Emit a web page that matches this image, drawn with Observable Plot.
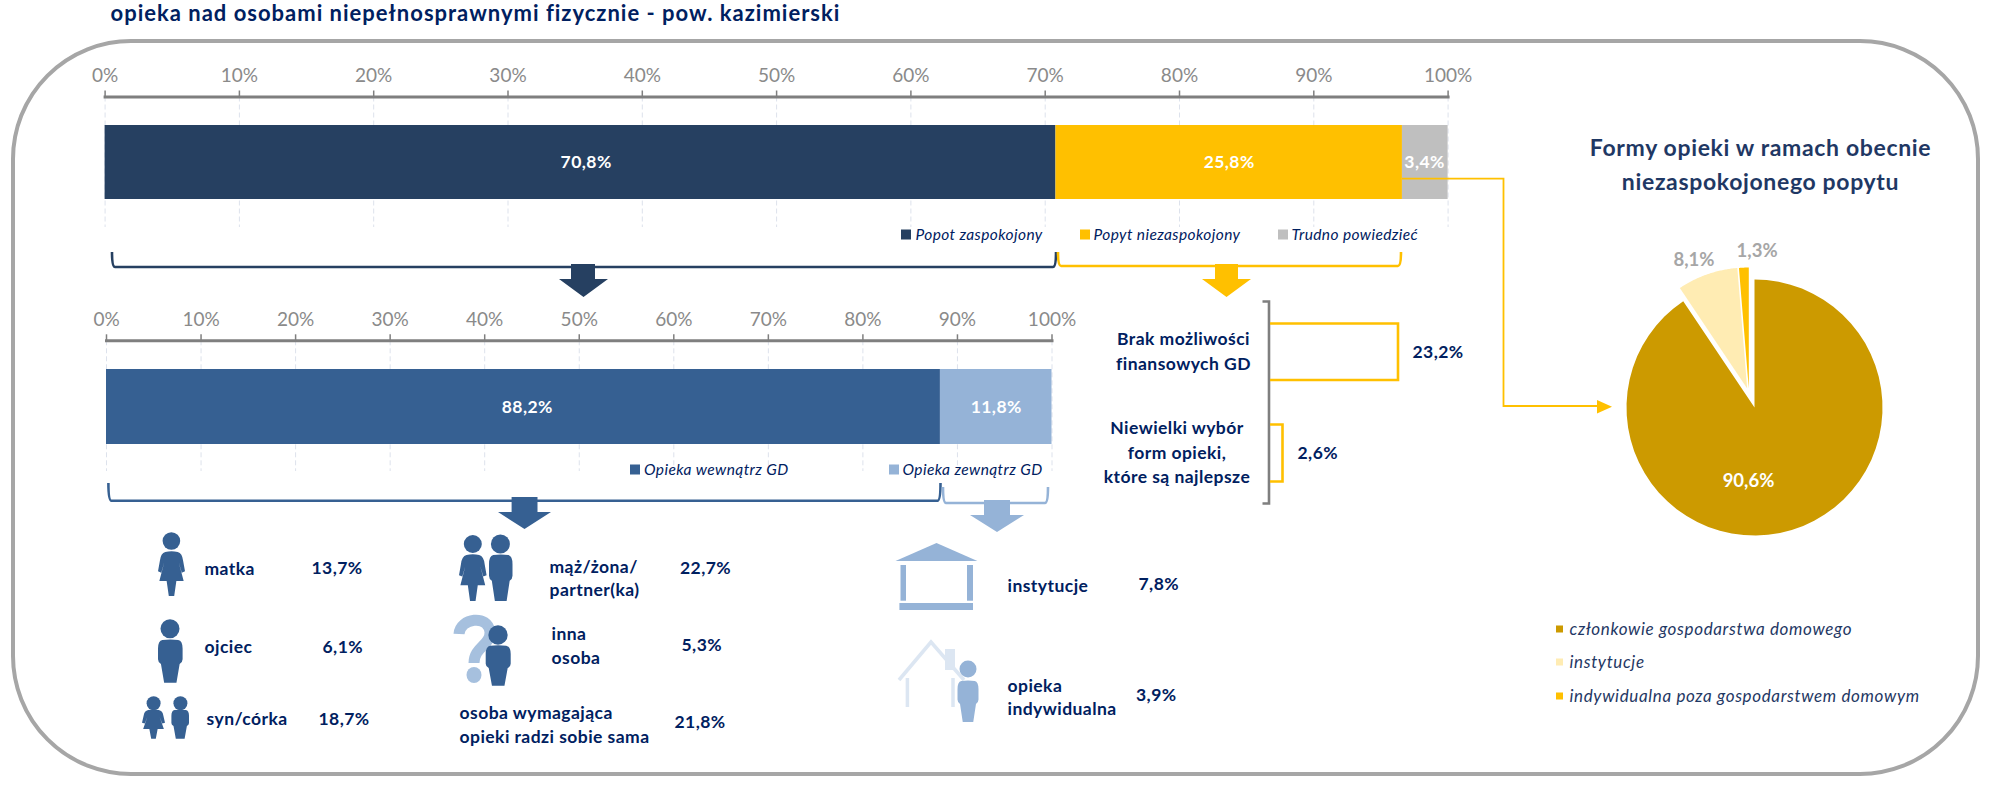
<!DOCTYPE html>
<html lang="pl">
<head>
<meta charset="utf-8">
<script src="https://cdn.jsdelivr.net/npm/d3@7"></script>
<script src="https://cdn.jsdelivr.net/npm/@observablehq/plot@0.6"></script>
<style>
html,body{margin:0;padding:0;background:#fff;overflow:hidden}
#page{position:relative;width:1989px;height:787px;font-family:Lato,sans-serif}
#page svg{position:absolute;left:0;top:0;background:transparent;max-width:none}
#frame{position:absolute;left:11px;top:39px;width:1961px;height:729px;border:4.5px solid #a6a6a6;border-radius:120px}
#page g[font-size="22"]{letter-spacing:1px}
#page g[font-size="23"]{letter-spacing:.65px}
#page g[font-size="17.5"]{letter-spacing:.45px}
#page g[font-size="15.5"]{letter-spacing:.4px}
#page g[font-size="17"]{letter-spacing:.65px}
</style>
</head>
<body>
<div id="page"><div id="frame"></div></div>
<script>
// ---------- data ----------
const titleText = "opieka nad osobami niepełnosprawnymi fizycznie - pow. kazimierski";
const demandLabels = ["Popot zaspokojony", "Popyt niezaspokojony", "Trudno powiedzieć"];
const demandValues = [70.8, 25.8, 3.4];
const careLabels = ["Opieka wewnątrz GD", "Opieka zewnątrz GD"];
const careValues = [88.2, 11.8];
const pieLabels = ["członkowie gospodarstwa domowego", "instytucje", "indywidualna poza gospodarstwem domowym"];
const pieValues = [90.6, 8.1, 1.3];
const pieTitle = ["Formy opieki w ramach obecnie", "niezaspokojonego popytu"];
const reasonLabels = [["Brak możliwości", "finansowych GD"], ["Niewielki wybór", "form opieki,", "które są najlepsze"]];
const reasonValues = [23.2, 2.6];
const insideLabels = [["matka"], ["ojciec"], ["syn/córka"], ["mąż/żona/", "partner(ka)"], ["inna", "osoba"], ["osoba wymagająca", "opieki radzi sobie sama"]];
const insideValues = [13.7, 6.1, 18.7, 22.7, 5.3, 21.8];
const outsideLabels = [["instytucje"], ["opieka", "indywidualna"]];
const outsideValues = [7.8, 3.9];
const percentTicks = [0, 10, 20, 30, 40, 50, 60, 70, 80, 90, 100];

// ---------- style ----------
const NAVY = "#002060", TITLE = "#1f3864", AXIS = "#7f7f7f", TICKTXT = "#8a8a8a", GRID = "#dde2ec";
const demandColors = ["#264061", "#ffc000", "#bfbfbf"];
const careColors = ["#366092", "#95b3d7"];
const pieColors = ["#cc9a00", "#ffecb3", "#ffc000"];
const FONT = "Lato, sans-serif";
const pct = v => v.toFixed(1).replace(".", ",") + "%";
const page = document.getElementById("page");

// ---------- stacked bars ----------
function stackedBar({labels, values, colors, xRange, axisY, gridEnd, barY, labelShift}) {
  const rows = labels.map((name, i) => ({name, value: values[i], row: "r"}));
  const mids = values.map((v, i) => d3.sum(values.slice(0, i)) + v / 2 + labelShift[i]);
  return Plot.plot({
    width: 1989, height: 787,
    marginTop: axisY, marginBottom: 787 - gridEnd, marginLeft: xRange[0], marginRight: 1989 - xRange[1],
    style: {background: "transparent", fontFamily: FONT},
    x: {domain: [0, 100], axis: null},
    y: {domain: ["r"], range: barY, padding: 0, axis: null},
    color: {domain: labels, range: colors},
    marks: [
      Plot.gridX(percentTicks, {stroke: GRID, strokeOpacity: 1, strokeDasharray: "5,3"}),
      Plot.barX(rows, Plot.stackX({x: "value", y: "row", fill: "name"})),
      Plot.text(rows, {x: (d, i) => mids[i], y: "row", text: d => pct(d.value), fill: "white", fontSize: 17.5, fontWeight: 700}),
      Plot.frame({anchor: "top", stroke: AXIS, strokeWidth: 3}),
      Plot.axisX(percentTicks, {anchor: "top", tickSize: 7, tickPadding: 8, tickFormat: d => d + "%", fontSize: 19, color: TICKTXT, stroke: AXIS, strokeWidth: 1.5, label: null})
    ]
  });
}
page.appendChild(stackedBar({labels: demandLabels, values: demandValues, colors: demandColors, xRange: [104.6, 1447.6], axisY: 96.5, gridEnd: 227, barY: [125, 199], labelShift: [0.42, 0, -0.05]}));
page.appendChild(stackedBar({labels: careLabels, values: careValues, colors: careColors, xRange: [106, 1051.5], axisY: 340.3, gridEnd: 471, barY: [369, 444], labelShift: [0.4, 0]}));

// ---------- pie ----------
const explode = [{dx: 0, dy: 0, r: 1}, {dx: -7.3 / 128, dy: 19 / 128, r: 0.945}, {dx: -5.7 / 128, dy: 19 / 128, r: 0.945}];
const pieRows = [];
{
  let start = 0;                       // clockwise from the top
  pieValues.forEach((v, i) => {
    const sweep = v / 100 * 360;
    const e = explode[i];
    pieRows.push({name: pieLabels[i], a: e.dx, b: e.dy});
    for (let k = 0; k <= 60; k++) {
      const t = (start + sweep * k / 60) * Math.PI / 180;
      pieRows.push({name: pieLabels[i], a: e.dx + e.r * Math.sin(t), b: e.dy + e.r * Math.cos(t)});
    }
    start += sweep;
  });
}
const pieText = [[-0.047, -0.578], [-0.473, 1.148], [0.02, 1.22]];
page.appendChild(Plot.plot({
  width: 1989, height: 787, margin: 0,
  style: {background: "transparent", fontFamily: FONT},
  x: {domain: [-1, 1], range: [1626, 1882], axis: null},
  y: {domain: [1, -1], range: [279, 535], axis: null},
  color: {domain: pieLabels, range: pieColors},
  marks: [
    Plot.line(pieRows, {x: "a", y: "b", z: "name", fill: "name", stroke: "none"}),
    Plot.text(pieValues, {x: (d, i) => pieText[i][0], y: (d, i) => pieText[i][1], text: d => pct(d),
      fill: (d, i) => i === 0 ? "white" : "#a6a6a6", fontSize: 18.5, fontWeight: 700})
  ]
}));

// ---------- decoration: brackets, arrows, icons ----------
const man = (x, y, w, h, c) => `<path fill="${c}" transform="translate(${x} ${y}) scale(${w} ${h})" d="M.18,0Q.5,-.02 .82,0Q1,.02 1,.2L1,.45Q1,.52 .88,.56L.75,1L.25,1L.12,.56Q0,.52 0,.45L0,.2Q0,.02 .18,0Z"/>`;
const woman = (x, y, w, h, c) => `<path fill="${c}" transform="translate(${x} ${y}) scale(${w} ${h})" d="M.27,0Q.5,-.03 .73,0Q.9,.03 .93,.2L1,.44L.88,.47L.77,.24L.95,.66L.68,.66L.6,1L.4,1L.32,.66L.05,.66L.23,.24L.12,.47L0,.44L.07,.2Q.1,.03 .27,0Z"/>`;
const head = (x, y, r, c) => `<ellipse cx="${x}" cy="${y}" rx="${r}" ry="${r}" fill="${c}"/>`;
const arrow = (x1, x2, hx1, hx2, y0, y1, y2, c) => `<path fill="${c}" d="M${x1},${y0}H${x2}V${y1}H${hx2}L${(hx1 + hx2) / 2},${y2}L${hx1},${y1}H${x1}Z"/>`;
const brace = (x1, x2, y1, y2, c) => `<path fill="none" stroke="${c}" stroke-width="2.6" d="M${x1},${y1}Q${x1},${y2} ${x1 + 3},${y2}H${x2 - 3}Q${x2},${y2} ${x2},${y1}"/>`;
const B = "#366092", L = "#95b3d7", Y = "#ffc000", D = "#264061";
const decor = `<svg width="1989" height="787" viewBox="0 0 1989 787">
${brace(112, 1056, 252, 267, D)}${brace(1058, 1401, 252, 266, Y)}
${arrow(571, 595, 559, 608, 264, 279, 297, D)}${arrow(1215, 1238, 1202, 1251, 264, 279, 297, Y)}
${brace(108.4, 940.5, 483, 500.7, B)}${brace(943, 1048, 487, 503, L)}
${arrow(511.6, 537.5, 498, 551, 497, 512, 529, B)}${arrow(984, 1010, 970, 1024, 500, 515, 532, L)}
<path fill="none" stroke="${AXIS}" stroke-width="2.6" d="M1262.5,301.5H1269V503.5H1262.5"/>
<path fill="none" stroke="${Y}" stroke-width="2.6" d="M1270,323.5H1398V380H1270"/>
<path fill="none" stroke="${Y}" stroke-width="2.6" d="M1270,424.5H1282.5V481.5H1270"/>
<path fill="none" stroke="${Y}" stroke-width="1.8" d="M1402,178.7H1503.5V406H1598"/>
<path fill="${Y}" d="M1597,400L1612,406.7L1597,413.5Z"/>
${head(171.4, 541, 8.8, B)}${woman(158, 552, 27, 44, B)}
${head(170, 628.7, 9.5, B)}${man(158, 640, 24.6, 42.7, B)}
${head(153.6, 703.3, 7, B)}${woman(142, 710, 23, 28.7, B)}
${head(180.4, 703.3, 7, B)}${man(171.4, 710, 17.6, 28.7, B)}
${head(472.8, 544, 9, B)}${woman(459, 555, 27.6, 46, B)}
${head(500.4, 544, 9.5, B)}${man(489, 555, 23.5, 46, B)}
<path fill="none" stroke="#a6c0de" stroke-width="11" d="M459,634C460,618 488,614 490,632C491,645 474,647 474,663"/>
<ellipse cx="474" cy="675" rx="7.5" ry="8" fill="#a6c0de"/>
${head(498, 635, 9.7, B)}${man(485.7, 645.7, 25, 40, B)}
<path fill="${L}" d="M936.5,543L977.4,561H895.5Z"/>
<rect x="900.5" y="565" width="5.5" height="35.7" fill="${L}"/>
<rect x="967" y="565" width="6" height="35.7" fill="${L}"/>
<rect x="899.4" y="603" width="73.6" height="7" fill="${L}"/>
<rect x="945" y="649" width="10" height="21" fill="#dce6f2"/>
<path fill="none" stroke="#dce6f2" stroke-width="3.5" d="M899,680L931,642L964,680M907.4,678V707M953,678V707"/>
${head(968, 669, 8.5, L)}${man(957.5, 681, 21, 41, L)}
</svg>`;
page.insertAdjacentHTML("beforeend", decor);

// ---------- text and legends ----------
const legendPos = [
  {sx: 901, tx: 915, y: 234.5}, {sx: 1080, tx: 1093, y: 234.5}, {sx: 1278, tx: 1291, y: 234.5}
];
const legend2Pos = [{sx: 630, tx: 643.5, y: 469.5}, {sx: 889, tx: 902, y: 469.5}];
const legend3Pos = [{sx: 1556, tx: 1569, y: 629}, {sx: 1556, tx: 1569, y: 662}, {sx: 1556, tx: 1569, y: 696}];
const legendRows = [
  ...demandLabels.map((t, i) => ({t, c: demandColors[i], ...legendPos[i], s: 10})),
  ...careLabels.map((t, i) => ({t, c: careColors[i], ...legend2Pos[i], s: 10}))
];
const legend3Rows = pieLabels.map((t, i) => ({t, c: pieColors[i], ...legend3Pos[i], s: 7}));

const labelPos = {
  reason: [[[1183, 339], [1183, 364]], [[1176.5, 428], [1176.5, 453], [1176.5, 477]]],
  inside: [[[204, 569]], [[204, 647]], [[206, 719]], [[549, 567], [549, 590]], [[551, 634], [551, 658]], [[459, 713], [459, 737]]],
  outside: [[[1007, 586]], [[1007, 686], [1007, 709]]]
};
const valuePos = {
  reason: [[1412, 352], [1297, 453]],
  inside: [[311, 568], [322, 647], [318, 719], [679.5, 568], [681, 645], [674, 722]],
  outside: [[1138, 584], [1135.5, 695]]
};
const lines = (labels, pos) => labels.flatMap((ls, i) => ls.map((t, j) => ({t, x: pos[i][j][0], y: pos[i][j][1]})));
const vals = (values, pos) => values.map((v, i) => ({t: pct(v), x: pos[i][0], y: pos[i][1]}));
const bold = {text: "t", x: "x", y: "y", fill: NAVY, fontWeight: 700, fontSize: 17.5};

page.appendChild(Plot.plot({
  width: 1989, height: 787, margin: 0,
  style: {background: "transparent", fontFamily: FONT},
  x: {type: "identity", axis: null}, y: {type: "identity", axis: null},
  marks: [
    Plot.text([{t: titleText, x: 110, y: 13}], {...bold, textAnchor: "start", fontSize: 22}),
    Plot.text(pieTitle.map((t, i) => ({t, x: 1760, y: [148, 182][i]})), {...bold, fill: TITLE, fontSize: 23}),
    Plot.text(lines(reasonLabels, labelPos.reason), bold),
    Plot.text(lines(insideLabels, labelPos.inside), {...bold, textAnchor: "start"}),
    Plot.text(lines(outsideLabels, labelPos.outside), {...bold, textAnchor: "start"}),
    Plot.text(vals(reasonValues, valuePos.reason), {...bold, textAnchor: "start"}),
    Plot.text(vals(insideValues, valuePos.inside), {...bold, textAnchor: "start"}),
    Plot.text(vals(outsideValues, valuePos.outside), {...bold, textAnchor: "start"}),
    Plot.rect(legendRows.concat(legend3Rows), {x1: "sx", x2: d => d.sx + d.s, y1: d => d.y - d.s / 2, y2: d => d.y + d.s / 2, fill: "c"}),
    Plot.text(legendRows, {text: "t", x: "tx", y: "y", textAnchor: "start", fill: NAVY, fontStyle: "italic", fontSize: 15.5}),
    Plot.text(legend3Rows, {text: "t", x: "tx", y: "y", textAnchor: "start", fill: TITLE, fontStyle: "italic", fontSize: 17})
  ]
}));
</script>
</body>
</html>
